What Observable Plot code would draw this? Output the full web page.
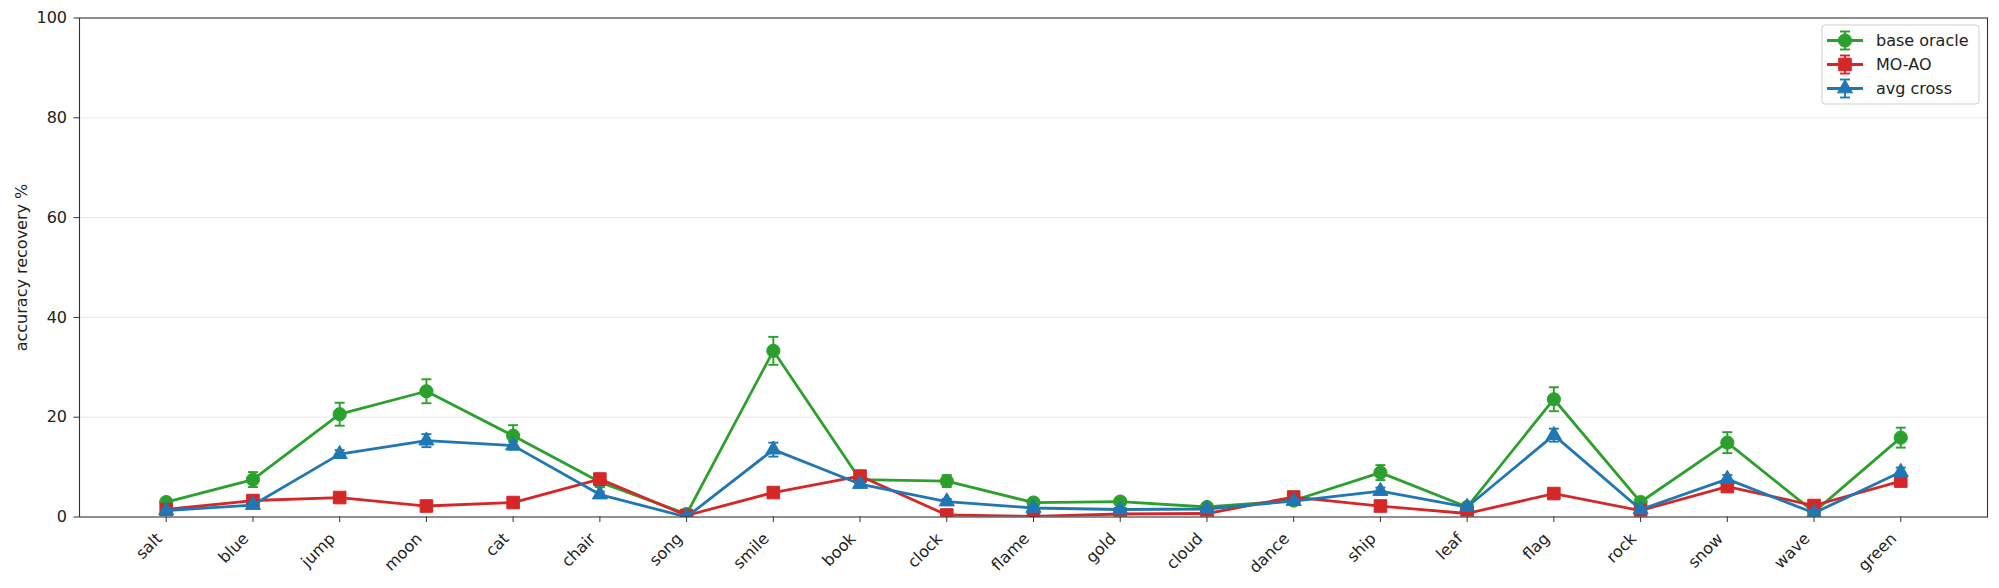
<!DOCTYPE html>
<html>
<head>
<meta charset="utf-8">
<script src="https://cdn.jsdelivr.net/npm/d3@7"></script>
<script src="https://cdn.jsdelivr.net/npm/@observablehq/plot@0.6"></script>
<style>
  html, body { margin: 0; padding: 0; background: #fff; }
  #chart { width: 1999px; height: 588px; }
</style>
</head>
<body>
<div id="chart"></div>
<script>
const categories = ["salt","blue","jump","moon","cat","chair","song","smile","book","clock","flame","gold","cloud","dance","ship","leaf","flag","rock","snow","wave","green"];

const baseOracle = [3.0, 7.5, 20.6, 25.2, 16.3, 7.0, 0.6, 33.3, 7.5, 7.2, 2.9, 3.1, 2.0, 3.3, 8.9, 2.0, 23.6, 3.0, 14.9, 1.0, 15.9];
const baseOracleErr = [0.6, 1.5, 2.3, 2.4, 2.1, 1.0, 0.3, 2.8, 0.6, 1.2, 0.6, 0.7, 0.4, 0.5, 1.5, 0.4, 2.4, 0.6, 2.1, 0.3, 2.0];

const moao = [1.5, 3.3, 3.9, 2.2, 2.9, 7.6, 0.3, 4.9, 8.2, 0.4, 0.1, 0.6, 0.7, 4.0, 2.2, 0.7, 4.7, 1.3, 6.1, 2.3, 7.2];
const moaoErr = [0.4, 0.5, 0.5, 0.5, 0.5, 1.1, 0.2, 0.6, 0.9, 0.2, 0.1, 0.3, 0.3, 0.6, 0.5, 0.3, 0.6, 0.4, 0.7, 0.5, 0.8];

const avgCross = [1.3, 2.4, 12.6, 15.3, 14.3, 4.5, 0.0, 13.5, 6.6, 3.1, 1.8, 1.5, 1.6, 3.2, 5.2, 2.0, 16.4, 1.5, 7.6, 0.8, 9.0];
const avgCrossErr = [0.3, 0.5, 0.8, 1.3, 0.8, 0.6, 0.1, 1.4, 0.5, 0.5, 0.3, 0.3, 0.3, 0.4, 0.7, 0.3, 1.3, 0.3, 0.8, 0.3, 0.9];

const yTicks = [0, 20, 40, 60, 80, 100];
const gridTicks = [20, 40, 60, 80];

const seriesNames = ["base oracle", "MO-AO", "avg cross"];
const seriesColors = ["#2ca02c", "#d62728", "#1f77b4"];
const seriesSymbols = ["circle", "square", "triangle"];
const seriesR = [6.6, 7.1, 5.6];
const seriesValues = [baseOracle, moao, avgCross];
const seriesErrors = [baseOracleErr, moaoErr, avgCrossErr];

const capHalf = 5;
const capSymbol = {
  draw(ctx) { ctx.moveTo(-capHalf, 0); ctx.lineTo(capHalf, 0); }
};

const seriesMarks = seriesNames.flatMap((name, s) => {
  const data = categories.map((c, i) => ({cat: c, v: seriesValues[s][i], e: seriesErrors[s][i]}));
  const color = seriesColors[s];
  return [
    Plot.line(data, {x: "cat", y: "v", stroke: color, strokeWidth: 2.8, clip: true}),
    Plot.ruleX(data, {x: "cat", y1: d => d.v - d.e, y2: d => d.v + d.e, stroke: color, strokeWidth: 1.9, clip: true}),
    Plot.dot(data, {x: "cat", y: d => d.v + d.e, symbol: capSymbol, fill: "none", stroke: color, strokeWidth: 1.9, clip: true}),
    Plot.dot(data, {x: "cat", y: d => d.v - d.e, symbol: capSymbol, fill: "none", stroke: color, strokeWidth: 1.9, clip: true}),
    Plot.dot(data, {x: "cat", y: "v", symbol: seriesSymbols[s], r: seriesR[s], fill: color, stroke: color, strokeWidth: 1, clip: true})
  ];
});

const chart = Plot.plot({
  width: 1999,
  height: 588,
  marginLeft: 79,
  marginRight: 12,
  marginTop: 17.5,
  marginBottom: 71.5,
  style: {fontFamily: "'DejaVu Sans'", fontSize: "16px", background: "white", color: "#222"},
  x: {type: "point", domain: categories, padding: 1, round: false, label: null},
  y: {domain: [0, 100]},
  marks: [
    Plot.gridY(gridTicks, {stroke: "#e8e8e8", strokeOpacity: 1, strokeWidth: 1}),
    Plot.axisX({tickSize: 5.5, text: null, label: null, stroke: "#333"}),
    Plot.axisX({tickSize: 0, tickRotate: -45, tickPadding: 19, dx: -7, label: null, fill: "#222"}),
    Plot.axisY({ticks: yTicks, tickSize: 5.5, tickPadding: 7, stroke: "#333", fill: "#222",
      label: "accuracy recovery %", labelAnchor: "center", labelArrow: "none", labelOffset: 64}),
    ...seriesMarks,
    Plot.frame({stroke: "#333", strokeWidth: 1.1})
  ]
});

document.getElementById("chart").appendChild(chart);

// legend (inside the plot area, top-right)
const svg = d3.select(chart.tagName.toLowerCase() === "svg" ? chart : chart.querySelector("svg"));
const lg = svg.append("g").attr("class", "legend").attr("text-anchor", "start");
const boxX = 1822, boxY = 25, boxW = 157, boxH = 79;
lg.append("rect").attr("x", boxX).attr("y", boxY).attr("width", boxW).attr("height", boxH)
  .attr("rx", 3).attr("fill", "white").attr("fill-opacity", 0.85).attr("stroke", "#d0d0d0");
const rowY = [40.5, 64.5, 88.5];
const d3Sym = {circle: d3.symbolCircle, square: d3.symbolSquare, triangle: d3.symbolTriangle};
seriesNames.forEach((name, s) => {
  const y = rowY[s], cx = 1845, color = seriesColors[s];
  lg.append("line").attr("x1", 1827).attr("x2", 1863).attr("y1", y).attr("y2", y)
    .attr("stroke", color).attr("stroke-width", 2.8);
  lg.append("line").attr("x1", cx).attr("x2", cx).attr("y1", y - 9).attr("y2", y + 9)
    .attr("stroke", color).attr("stroke-width", 1.9);
  [y - 9, y + 9].forEach(cy => lg.append("line").attr("x1", cx - capHalf).attr("x2", cx + capHalf)
    .attr("y1", cy).attr("y2", cy).attr("stroke", color).attr("stroke-width", 1.9));
  const r = seriesR[s];
  lg.append("path").attr("transform", `translate(${cx},${y})`)
    .attr("d", d3.symbol(d3Sym[seriesSymbols[s]], r * r * Math.PI)())
    .attr("fill", color).attr("stroke", color).attr("stroke-width", 1);
  lg.append("text").attr("x", 1876).attr("y", y).attr("dy", "0.35em").attr("text-anchor", "start")
    .attr("font-family", "'DejaVu Sans'").attr("font-size", 16).attr("fill", "#222").text(name);
});
</script>
</body>
</html>
